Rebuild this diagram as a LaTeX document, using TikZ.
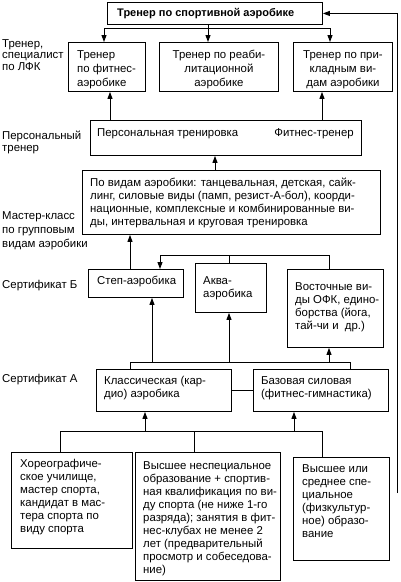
\documentclass[tikz,border=0pt]{standalone}
\usepackage{fontspec}
\setmainfont{Liberation Sans}
\usetikzlibrary{arrows.meta}
\newcommand\fs{\fontsize{11.4}{13}\selectfont}
\newcommand\fsr{\fontsize{11.4}{14}\selectfont}
\tikzset{
  box/.style={draw, line width=0.9pt, anchor=north west, inner sep=0pt},
  txt/.style={anchor=north west, inner sep=0pt, align=left, font=\fs},
  ctxt/.style={anchor=north, inner sep=0pt, align=center, font=\fsr},
  lbl/.style={anchor=north west, inner sep=0pt, align=left, font=\fs},
  ln/.style={line width=0.9pt},
  arr/.style={line width=0.9pt, -{Triangle[length=7pt,width=5pt]}},
}
% name, x, y, w, h, padx, pady, text
\newcommand\bx[8]{%
  \node[box, minimum width=#4pt, minimum height=#5pt] (#1) at (#2,#3) {};
  \node[txt] (#1-t) at ([xshift=#6pt,yshift=-#7pt]#1.north west) {#8};}
\begin{document}
\begin{tikzpicture}[x=1pt,y=-1pt]
\useasboundingbox (0,0) rectangle (400,582);
% top
\node[box, minimum width=215pt, minimum height=22pt] (top) at (107,2) {};
\node[txt, font=\fontsize{11}{13}\selectfont\bfseries, anchor=west] (top-t) at ([xshift=10pt]top.west) {Тренер по спортивной аэробике};
% row 1
\node[box, minimum width=77pt, minimum height=49pt] (b1) at (68,42) {};
\node[txt, font=\fsr] (b1-t) at ([xshift=9pt,yshift=-8pt]b1.north west) {Тренер\\по фитнес-\\аэробике};
\node[box, minimum width=119pt, minimum height=49pt] (b2) at (159,42) {};
\node[ctxt] (b2-t) at ([yshift=-8pt]b2.north) {Тренер по реаби-\\литационной\\аэробике};
\node[box, minimum width=99pt, minimum height=49pt] (b3) at (293,42) {};
\node[ctxt] (b3-t) at ([yshift=-8pt]b3.north) {Тренер по при-\\кладным ви-\\дам аэробики};
% personal
\node[box, minimum width=271pt, minimum height=35pt] (pers) at (90,120) {};
\node[txt] (pers-t1) at ([xshift=7pt,yshift=-8pt]pers.north west) {Персональная тренировка};
\node[txt, anchor=north east] (pers-t2) at ([xshift=-8pt,yshift=-8pt]pers.north east) {Фитнес-тренер};
% big
\bx{big}{82}{170}{298}{64}{8}{8}{По видам аэробики: танцевальная, детская, сайк-\\линг, силовые виды (памп, резист-А-бол), коорди-\\национные, комплексные и комбинированные ви-\\ды, интервальная и круговая тренировка}
% cert B
\bx{step}{88}{269}{95}{28}{9}{7}{Степ-аэробика}
\bx{aqua}{195}{263}{71}{49}{8}{13}{Аква-\\аэробика}
\bx{vost}{287}{269}{96}{78}{8}{13}{Восточные ви-\\ды ОФК, едино-\\борства (йога,\\тай-чи и~~др.)}
% cert A
\bx{klass}{96}{369}{135}{42}{8}{7}{Классическая (кар-\\дио) аэробика}
\bx{baz}{253}{369}{135}{42}{8}{7}{Базовая силовая\\(фитнес-гимнастика)}
% bottom
\bx{hor}{11}{452}{121}{96}{9}{7}{Хореографиче-\\ское училище,\\мастер спорта,\\кандидат в мас-\\тера спорта по\\виду спорта}
\bx{mid}{135}{452}{145}{128}{8}{9}{Высшее неспециальное\\образование + спортив-\\ная квалификация по ви-\\ду спорта (не ниже 1-го\\разряда); занятия в фит-\\нес-клубах не менее 2\\лет (предварительный\\просмотр и собеседова-\\ние)}
\bx{right}{293}{457}{96}{103}{9}{7}{Высшее или\\среднее спе-\\циальное\\(физкультур-\\ное) образо-\\вание}
% left labels
\node[lbl, font=\fontsize{11.4}{11.8}\selectfont] (l1) at (2,39) {Тренер,\\специалист\\по ЛФК};
\node[lbl, font=\fontsize{11.4}{12.2}\selectfont] (l2) at (2,131) {Персональный\\тренер};
\node[lbl, font=\fontsize{11.4}{14}\selectfont] (l3) at (2,211) {Мастер-класс\\по групповым\\видам аэробики};
\node[lbl] (l4) at (2,280) {Сертификат Б};
\node[lbl] (l5) at (2,374) {Сертификат А};
% coordinates
\coordinate (t1) at (104,28); \coordinate (t2) at (208,28); \coordinate (t3) at (330,28);
\coordinate (p1) at (110,0); \coordinate (p3) at (322,0);
\coordinate (q) at (215,0); \coordinate (r) at (130,0);
\coordinate (s1) at (160,255); \coordinate (s2) at (229,255); \coordinate (s3) at (329,255);
\coordinate (u1) at (130,362); \coordinate (u2) at (350,362);
\coordinate (v1) at (152,362); \coordinate (v2) at (229,362); \coordinate (v3) at (329,362);
\coordinate (w1) at (60,431); \coordinate (w2) at (194,431); \coordinate (w3) at (322,431);
\coordinate (w4) at (145,431); \coordinate (w5) at (294,431);
\coordinate (f0) at (397,493);
% connectors
\draw[ln] (top.south -| t2) -- (t2);
\draw[ln] (t1) -- (t3);
\draw[arr] (t1) -- (t1 |- b1.north);
\draw[arr] (t2) -- (t2 |- b2.north);
\draw[arr] (t3) -- (t3 |- b3.north);
\draw[arr] (pers.north -| p1) -- (p1 |- b1.south);
\draw[arr] (pers.north -| p3) -- (p3 |- b3.south);
\draw[arr] (big.north -| q) -- (q |- pers.south);
\draw[arr] (step.north -| r) -- (r |- big.south);
\draw[arr] (s2 |- aqua.north) -- (s2) -- (s1) -- (s1 |- step.north);
\draw[ln] (s2) -- (s3) -- (s3 |- vost.north);
\draw[ln] (klass.north -| u1) -- (u1) -- (u2) -- (u2 |- baz.north);
\draw[arr] (v1) -- (v1 |- step.south);
\draw[arr] (v2) -- (v2 |- aqua.south);
\draw[arr] (v3) -- (v3 |- vost.south);
\draw[ln] (klass.east) -- (baz.west);
\draw[ln] (w1 |- hor.north) -- (w1) -- (w3) -- (w3 |- right.north);
\draw[ln] (w2) -- (w2 |- mid.north);
\draw[arr] (w4) -- (w4 |- klass.south);
\draw[arr] (w5) -- (w5 |- baz.south);
\draw[arr] (f0) -- (f0 |- top.east) -- (top.east);
\end{tikzpicture}
\end{document}
